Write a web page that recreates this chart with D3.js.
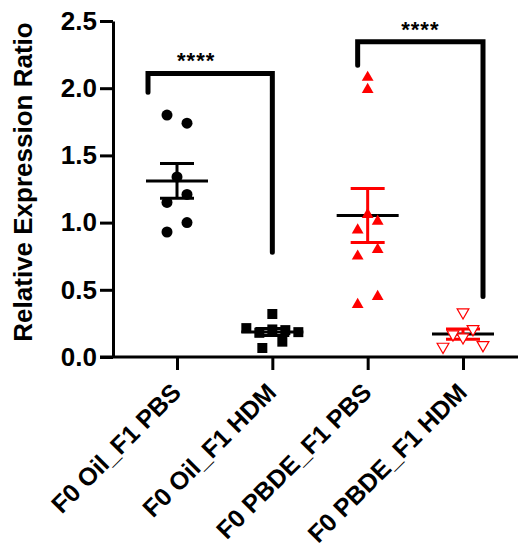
<!DOCTYPE html>
<html><head><meta charset="utf-8">
<script src="https://cdn.jsdelivr.net/npm/d3@7"></script>
<style>
body{margin:0;background:#fff}
text{font-family:"Liberation Sans",Arial,sans-serif;font-weight:bold;fill:#000}
</style>
</head><body><svg id="chart" width="525" height="550"></svg>
<script>
// ---- data ----
const categories = ["F0 Oil_F1 PBS", "F0 Oil_F1 HDM", "F0 PBDE_F1 PBS", "F0 PBDE_F1 HDM"];
const oilPbs  = [1.80, 1.74, 1.34, 1.15, 1.21, 0.93, 1.00];
const oilHdm  = [0.32, 0.067, 0.114, 0.215, 0.18, 0.205, 0.20, 0.185];
const pbdePbs = [2.08, 1.99, 1.06, 0.945, 1.01, 0.75, 0.80, 0.39, 0.45];
const pbdeHdm = [0.333, 0.077, 0.147, 0.089, 0.169, 0.208];
const yTicks = [0, 0.5, 1.0, 1.5, 2.0, 2.5];
const yTitle = "Relative Expression Ratio";
const compFrom = [0, 2];
const compTo = [1, 3];
const compTop = [2.11, 2.345];
const compFromEnd = [1.97, 2.17];
const compToEnd = [0.78, 0.45];
const compLabel = ["****", "****"];

const groups = [oilPbs, oilHdm, pbdePbs, pbdeHdm];
const styles = [
  {shape: d3.symbolCircle, size: 95, fill: "#000", stroke: "none", rot: 0, sem: "#000"},
  {shape: d3.symbolSquare, size: 100, fill: "#000", stroke: "none", rot: 0, sem: "#000"},
  {shape: d3.symbolTriangle, size: 60, fill: "#ff0000", stroke: "none", rot: 0, sem: "#ff0000"},
  {shape: d3.symbolTriangle, size: 60, fill: "#fff", stroke: "#ff0000", rot: 180, sem: "#ff0000"}
];

const svg = d3.select("#chart");
const y = d3.scaleLinear().domain([0, 2.5]).range([357, 21]);
const x = d3.scalePoint().domain(categories).range([177, 463]);

// axes
const yAxis = svg.append("g").attr("transform", "translate(113,0)")
  .call(d3.axisLeft(y).tickValues(yTicks).tickFormat(d3.format(".1f")).tickSize(13).tickPadding(3).tickSizeOuter(0));
yAxis.select(".domain").attr("stroke-width", 3);
yAxis.selectAll(".tick line").attr("stroke-width", 3);
yAxis.selectAll(".tick text").style("font-size", "26px").attr("font-family", null);

const xAxis = svg.append("g").attr("transform", `translate(0,${y(0)})`)
  .call(d3.axisBottom(x).tickSize(13).tickSizeOuter(0));
xAxis.select(".domain").remove();
xAxis.append("line").attr("x1", 100).attr("x2", 518).attr("stroke", "#000").attr("stroke-width", 3);
xAxis.selectAll(".tick line").attr("stroke-width", 3);
xAxis.selectAll(".tick text")
  .style("font-size", "25px").attr("font-family", null)
  .attr("text-anchor", "end").attr("dy", null).attr("y", null)
  .attr("transform", "translate(5,37) rotate(-45)");

svg.append("text").attr("transform", "translate(32,182) rotate(-90)")
  .attr("text-anchor", "middle").style("font-size", "26px").text(yTitle);

// swarm layout: rows of close values spread symmetrically
function swarm(values) {
  const rowH = 11, maxStep = 20, maxSpread = 52;
  const idx = values.map((v, i) => i).sort((a, b) => values[a] - values[b]);
  const offs = values.map(() => 0);
  let row = [];
  const flush = () => {
    const n = row.length;
    if (!n) return;
    const step = n > 1 ? Math.min(maxStep, maxSpread / (n - 1)) : 0;
    row.slice().sort((a, b) => a - b).forEach((k, j) => offs[k] = (j - (n - 1) / 2) * step);
    row = [];
  };
  idx.forEach(i => {
    if (row.length && Math.abs(y(values[i]) - y(values[row[0]])) >= rowH) flush();
    row.push(i);
  });
  flush();
  return offs;
}

groups.forEach((vals, gi) => {
  const cx = x(categories[gi]);
  const st = styles[gi];
  const m = d3.mean(vals);
  const sem = d3.deviation(vals) / Math.sqrt(vals.length);
  const g = svg.append("g");
  g.append("line").attr("x1", cx - 31).attr("x2", cx + 31).attr("y1", y(m)).attr("y2", y(m))
    .attr("stroke", "#000").attr("stroke-width", 3);
  g.append("line").attr("x1", cx).attr("x2", cx).attr("y1", y(m - sem)).attr("y2", y(m + sem))
    .attr("stroke", st.sem).attr("stroke-width", 3);
  [m - sem, m + sem].forEach(v => g.append("line").attr("x1", cx - 17).attr("x2", cx + 17)
    .attr("y1", y(v)).attr("y2", y(v)).attr("stroke", st.sem).attr("stroke-width", 3));
  const offs = swarm(vals);
  const sym = d3.symbol().type(st.shape).size(st.size);
  g.selectAll("path.pt").data(vals).join("path").attr("class", "pt")
    .attr("d", sym)
    .attr("transform", (d, i) => `translate(${cx + offs[i]},${y(d)}) rotate(${st.rot})`)
    .attr("fill", st.fill).attr("stroke", st.stroke).attr("stroke-width", 1.2);
});

// significance brackets
const bracketDx = [[-29, 0], [-10, 20]];
const labelDx = [-14, 0];
compFrom.forEach((f, i) => {
  const x1 = x(categories[f]) + bracketDx[i][0];
  const x2 = x(categories[compTo[i]]) + bracketDx[i][1];
  const yt = y(compTop[i]);
  svg.append("path")
    .attr("d", `M${x1},${y(compFromEnd[i])}V${yt}H${x2}V${y(compToEnd[i])}`)
    .attr("fill", "none").attr("stroke", "#000").attr("stroke-width", 5)
    .attr("stroke-linecap", "round").attr("stroke-linejoin", "miter");
  svg.append("text").attr("x", (x1 + x2) / 2 + labelDx[i]).attr("y", yt - 5)
    .attr("text-anchor", "middle").style("font-size", "22px").style("letter-spacing", "1px")
    .text(compLabel[i]);
});
</script>
</body></html>
